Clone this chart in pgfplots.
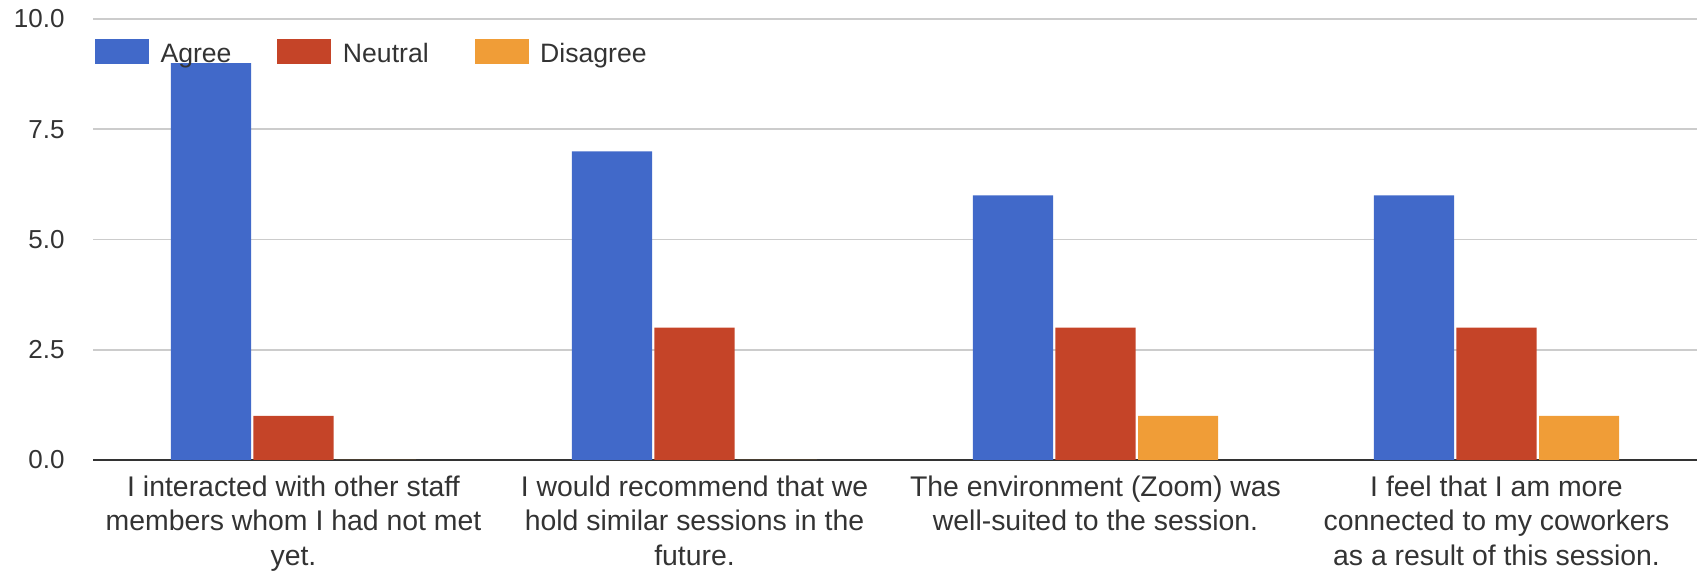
\documentclass[border=0pt]{standalone}
\usepackage{fontspec}
\setmainfont{Liberation Sans}
\usepackage{pgfplots}
\pgfplotsset{compat=1.18}

\definecolor{cAgree}{RGB}{65,105,201}
\definecolor{cNeutral}{RGB}{197,68,40}
\definecolor{cDisagree}{RGB}{240,157,55}
\definecolor{txt}{RGB}{51,51,51}

\begin{document}
\begin{tikzpicture}
\begin{axis}[
  scale only axis,
  width=802pt, height=220.5pt,
  ybar=1.2pt,
  bar width=0.2,
  xmin=-0.5, xmax=3.5,
  ymin=0, ymax=10,
  ytick={0,2.5,5,7.5,10},
  xtick={0,1,2,3},
  xticklabels={
    {I interacted with other staff\\members whom I had not met\\yet.},
    {I would recommend that we\\hold similar sessions in the\\future.},
    {The environment (Zoom) was\\well-suited to the session.},
    {I feel that I am more\\connected to my coworkers\\as a result of this session.}},
  /pgf/number format/assume math mode=true,
  yticklabel style={/pgf/number format/fixed, /pgf/number format/fixed zerofill,
    /pgf/number format/precision=1, font=\fontsize{13}{15}\selectfont, text=txt, xshift=-10.7pt},
  xticklabel style={align=center, font=\fontsize{14.2}{17.3}\selectfont, text=txt, yshift=-4.2pt},
  major tick length=0pt,
  ymajorgrids=true,
  grid style={draw=black!20, line width=0.8pt},
  separate axis lines,
  axis x line*=bottom,
  axis y line*=left,
  x axis line style={draw=black!80, line width=1pt, -},
  y axis line style={draw=none},
  legend columns=3,
  legend image code/.code={\fill[#1] (0pt,-5pt) rectangle (27pt,7.5pt);},
  legend style={draw=none, fill=none, at={(0.001,0.955)}, anchor=north west,
    font=\fontsize{13.3}{15}\selectfont, text=txt, inner sep=0pt,
    /tikz/every odd column/.append style={column sep=3.75pt},
    /tikz/every even column/.append style={column sep=21pt}},
]
\addplot[fill=cAgree, draw=none] coordinates {(0,9)(1,7)(2,6)(3,6)};
\addplot[fill=cNeutral, draw=none] coordinates {(0,1)(1,3)(2,3)(3,3)};
\addplot[fill=cDisagree, draw=none] coordinates {(0,0)(1,0)(2,1)(3,1)};
\legend{Agree,Neutral,Disagree}
\end{axis}
\pgfresetboundingbox
\useasboundingbox ([shift={(-46.5pt,-55.5pt)}]current axis.south west)
  rectangle ([shift={(0.5pt,9.5pt)}]current axis.north east);
\end{tikzpicture}
\end{document}
